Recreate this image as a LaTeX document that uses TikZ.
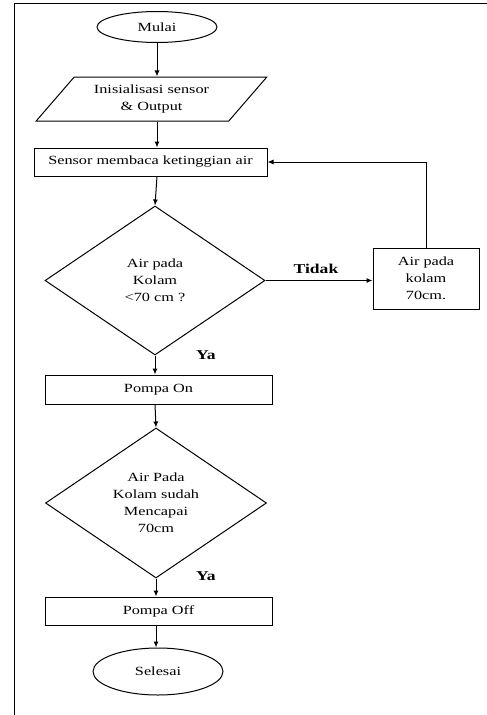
\documentclass[tikz,border=0pt]{standalone}
\usepackage{fontspec}
\setmainfont{Liberation Serif}[FakeStretch=1.3]
\usetikzlibrary{shapes.geometric,arrows.meta}

\begin{document}
\begin{tikzpicture}[x=1pt,y=-1pt,
    every node/.style={font=\fontsize{12.5}{17}\selectfont,align=center,inner sep=0pt},
    edge/.style={draw,line width=1pt},
    terminal/.style={edge,ellipse},
    io/.style={edge,trapezium,trapezium left angle=45,trapezium right angle=135,trapezium stretches=true},
    proc/.style={edge,rectangle},
    cond/.style={edge,diamond},
    flow/.style={line width=1pt,-{Latex[length=6pt,width=5pt]}}]
    \useasboundingbox (0,0) rectangle (487,715);
    % frame
    \draw[line width=1pt] (14,715) -- (14,3) -- (487,3);
    % blocks
    \node (mulai) [terminal,minimum width=120pt,minimum height=31pt] at (157,27) {Mulai};
    \node (init) [io,minimum width=231pt,minimum height=44pt] at (151.5,99) {Inisialisasi sensor\\ \& Output};
    \node (sensor) [proc,minimum width=233pt,minimum height=28pt] at (150.5,162) {Sensor membaca ketinggian air};
    \node (cek) [cond,minimum width=220pt,minimum height=149pt] at (155,280.5) {Air pada\\ Kolam\\ {<}70 cm ?};
    \node (tunggu) [proc,minimum width=106pt,minimum height=61pt] at (426,278.5) {Air pada\\ kolam\\ 70cm.};
    \node (pompaon) [proc,minimum width=227pt,minimum height=29pt] at (158.5,389.5) {Pompa On};
    \node (cekdua) [cond,minimum width=221pt,minimum height=150pt] at (156,503) {Air Pada\\ Kolam sudah\\ Mencapai\\ 70cm};
    \node (pompaoff) [proc,minimum width=227pt,minimum height=28pt] at (158.5,611) {Pompa Off};
    \node (selesai) [terminal,minimum width=130pt,minimum height=47pt] at (158,671.5) {Selesai};
    % labels
    \node (tidaklabel) at (316,269) {\fontsize{13.5}{16}\selectfont\bfseries Tidak};
    \node (yalabel) at (206,355) {\fontsize{13.5}{16}\selectfont\bfseries Ya};
    \node (yaduolabel) at (206,576) {\fontsize{13.5}{16}\selectfont\bfseries Ya};
    % connectors
    \draw[flow] (mulai.south) -- (mulai.south |- init.north);
    \draw[flow] (mulai.south |- init.south) -- (mulai.south |- sensor.north);
    \draw[flow] (mulai.south |- sensor.south) -- (cek.north);
    \draw[flow] (cek.east) -- (cek.east -| tunggu.west);
    \draw[flow] (tunggu.north) |- (sensor.east);
    \draw[flow] (cek.south) -- (cek.south |- pompaon.north);
    \draw[flow] (cek.south |- pompaon.south) -- (cekdua.north);
    \draw[flow] (cekdua.south) -- (cekdua.south |- pompaoff.north);
    \draw[flow] (cekdua.south |- pompaoff.south) -- (cekdua.south |- selesai.north);
\end{tikzpicture}
\end{document}
